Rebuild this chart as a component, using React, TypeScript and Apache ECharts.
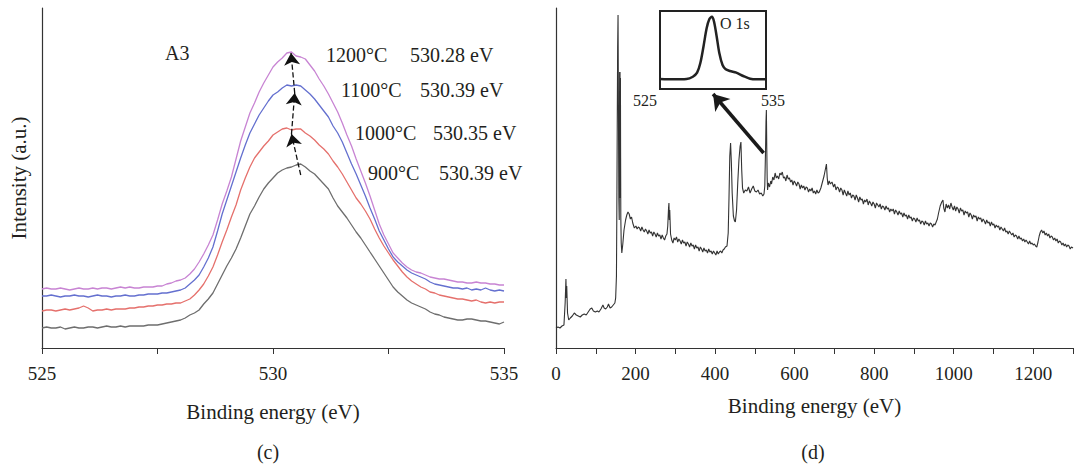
import { useEffect, useRef } from 'react';
import * as echarts from 'echarts';

// Abscissa grid of the O 1s spectra (0.1 eV sampling, 525–535 eV)
const energyC: number[] = Array.from({ length: 101 }, (_, i) => Math.round((525 + i * 0.1) * 10) / 10);

const gray900: number[] = [
  20, 21, 20, 20, 21, 19, 20, 21, 20, 20, 21, 21, 20, 21, 22, 21, 21, 22, 21, 22, 22,
  22, 22, 23, 23, 23, 24, 25, 26, 27, 28,
  30, 33, 35, 38, 44, 49, 55, 64, 73, 82,
  90, 99, 110, 122, 134, 142, 151, 159, 165, 170,
  175, 178, 180, 181, 183, 184, 181, 177, 174, 169,
  164, 159, 150, 142, 136, 130, 123, 116, 110, 103,
  96, 89, 82, 75, 68, 61, 56, 52, 48, 45,
  43, 41, 39, 36, 34, 33, 31, 30, 29, 28,
  28, 29, 29, 28, 27, 27, 26, 25, 24, 26,
];
const red1000: number[] = [
  37, 38, 38, 37, 38, 39, 38, 39, 40, 42, 40, 37, 38, 38, 39, 38, 39, 39, 39, 40, 40,
  41, 41, 42, 42, 43, 43, 44, 44, 45, 45,
  47, 49, 53, 58, 64, 72, 81, 93, 106, 118,
  131, 143, 158, 170, 181, 190, 196, 202, 207, 213,
  216, 219, 220, 218, 219, 219, 215, 212, 208, 203,
  199, 194, 187, 181, 174, 166, 158, 150, 144, 137,
  129, 119, 110, 102, 95, 88, 82, 76, 71, 67,
  64, 61, 59, 56, 55, 53, 52, 51, 50, 49,
  49, 48, 47, 48, 46, 45, 46, 45, 46, 46,
];
const blue1100: number[] = [
  52, 52, 53, 52, 51, 52, 52, 53, 52, 52, 51, 52, 53, 52, 52, 51, 52, 52, 53, 52, 52,
  53, 53, 54, 54, 54, 55, 55, 56, 57, 58,
  60, 64, 68, 73, 81, 90, 101, 117, 134, 148,
  162, 176, 190, 203, 215, 224, 233, 240, 247, 253,
  256, 260, 263, 262, 263, 262, 258, 254, 249, 243,
  237, 231, 222, 215, 206, 195, 184, 174, 163, 152,
  140, 129, 117, 108, 99, 91, 86, 82, 78, 75,
  73, 71, 69, 66, 64, 63, 62, 61, 60, 60,
  59, 60, 58, 59, 58, 60, 58, 57, 58, 57,
];
const purple1200: number[] = [
  59, 60, 59, 59, 60, 59, 58, 59, 60, 59, 59, 60, 59, 60, 60, 59, 60, 61, 60, 61, 60,
  60, 61, 61, 61, 62, 62, 64, 65, 67, 68,
  70, 74, 79, 86, 94, 103, 113, 128, 144, 157,
  171, 189, 207, 221, 235, 245, 256, 265, 273, 281,
  286, 290, 295, 296, 292, 291, 289, 283, 277, 269,
  262, 254, 245, 236, 225, 213, 202, 189, 177, 165,
  152, 138, 124, 113, 104, 95, 90, 85, 81, 78,
  76, 75, 73, 71, 70, 69, 69, 68, 67, 66,
  66, 65, 65, 66, 65, 65, 64, 64, 63, 63,
];

const seriesNames = ['900°C', '1000°C', '1100°C', '1200°C'];
const peakLabels = ['530.39 eV', '530.35 eV', '530.39 eV', '530.28 eV'];
const seriesColors = ['#6e6e6e', '#e5706c', '#6470cf', '#c884d3'];

// Dashed shift arrow (peak to peak)
const shiftPath: [number, number][] = [
  [530.6, 173], [530.4, 214], [530.47, 255], [530.39, 295],
];

// Survey spectrum (binding energy eV, intensity a.u.)
const surveyData: [number, number][] = [
  [0, 20], [5, 21], [10, 20], [15, 22], [20, 23], [23, 45], [25, 69], [26, 50], [27, 62], [29, 35], [32, 28], [36, 30], [41, 32], [46, 35], [51, 33], [56, 32], [61, 31], [66, 33], [71, 34], [76, 33], [81, 36], [86, 39], [90, 40], [94, 37], [99, 36], [104, 37], [108, 36], [113, 39], [118, 43], [121, 40], [125, 39], [129, 41], [132, 44], [136, 40], [140, 41], [144, 43], [148, 45], [150, 50],
  [152, 72], [153, 140], [154, 222], [155, 300], [156, 333], [157, 240], [158, 150], [159, 128], [160, 276], [160.5, 150], [161, 276], [161.5, 160], [162, 270], [162.5, 190], [163, 130], [164, 105], [165.5, 95], [168, 104], [171, 118], [175, 128], [178, 133], [181, 136], [184, 134], [187, 129], [190, 131], [193, 125], [197, 120],
  [201, 122], [204, 119], [207, 121], [210, 120], [213, 117], [216, 121], [219, 118], [222, 116], [225, 119], [228, 117], [231, 114], [234, 118], [237, 115], [240, 116], [243, 112], [246, 116], [249, 114], [252, 111], [255, 115], [258, 112], [261, 113], [264, 109], [267, 113], [270, 110], [273, 108], [276, 112], [279, 114], [281, 122], [283, 140], [284, 145], [285, 128], [286, 138], [288, 114], [291, 108], [294, 105], [297, 110],
  [300, 108], [303, 111], [306, 106], [309, 109], [312, 107], [315, 104], [318, 108], [321, 105], [324, 106], [327, 102], [330, 106], [333, 104], [336, 101], [339, 105], [342, 102], [345, 103], [348, 99], [351, 103], [354, 100], [357, 101], [360, 97], [363, 101], [366, 99], [369, 96], [372, 100], [375, 97], [378, 98], [381, 95], [384, 99], [387, 96], [390, 97], [393, 94], [396, 97], [399, 95], [402, 93], [405, 97], [408, 94], [411, 96], [414, 97], [417, 95], [420, 98], [423, 99], [426, 101], [430, 102],
  [433, 115], [435, 150], [437, 192], [439, 205], [441, 185], [443, 155], [446, 132], [449, 127], [451, 126], [454, 138], [457, 165], [460, 188], [463, 202], [465, 206], [467, 178], [469, 160], [472, 155], [476, 158], [480, 157], [484, 161], [488, 155], [492, 159], [496, 162], [500, 157],
  [504, 156], [508, 158], [512, 154], [516, 155], [520, 152], [523, 154], [525, 162], [527, 200], [528, 226], [529, 238], [530, 200], [531, 170], [532, 158], [534, 165], [537, 161], [540, 167], [542, 164], [545, 171], [548, 168], [551, 175], [554, 170], [557, 172], [560, 169], [563, 175], [566, 173], [569, 176], [572, 170], [575, 171], [578, 167], [581, 173], [584, 169], [587, 170], [590, 166], [593, 168], [596, 163], [599, 167],
  [602, 165], [605, 162], [608, 166], [611, 164], [614, 159], [617, 163], [620, 160], [623, 162], [626, 158], [629, 161], [632, 160], [635, 156], [638, 159], [641, 157], [644, 160], [647, 155], [650, 157], [653, 154], [656, 158], [659, 155], [662, 156], [666, 160], [670, 166], [674, 172], [677, 178], [680, 184], [682, 170], [684, 163], [687, 167], [690, 164], [694, 166], [698, 161],
  [701, 164], [704, 158], [707, 161], [710, 160], [713, 156], [716, 160], [719, 158], [722, 153], [725, 158], [728, 155], [731, 152], [734, 157], [737, 153], [740, 155], [743, 150], [746, 153], [749, 152], [752, 148], [755, 153], [758, 150], [761, 146], [764, 151], [767, 148], [770, 149], [773, 144], [776, 148], [779, 146], [782, 149], [785, 143], [788, 147], [791, 145], [794, 142], [797, 146],
  [800, 144], [803, 140], [806, 145], [809, 143], [812, 141], [815, 144], [818, 139], [821, 142], [824, 141], [827, 138], [830, 142], [833, 139], [836, 140], [839, 136], [842, 139], [845, 137], [848, 139], [851, 134], [854, 138], [857, 136], [860, 133], [863, 137], [866, 134], [869, 135], [872, 131], [875, 135], [878, 132], [881, 133], [884, 129], [887, 133], [890, 130], [893, 131], [896, 127], [899, 130],
  [902, 129], [905, 126], [908, 130], [911, 127], [914, 128], [917, 124], [920, 127], [923, 126], [926, 123], [929, 127], [932, 124], [935, 125], [938, 122], [941, 125], [944, 124], [947, 121], [950, 124], [953, 123], [956, 126], [959, 129], [962, 135], [966, 142], [970, 146], [973, 148], [975, 140], [978, 136], [981, 144], [984, 140], [987, 143], [990, 139], [993, 145], [996, 141], [999, 138],
  [1002, 142], [1005, 137], [1008, 141], [1011, 139], [1014, 135], [1017, 140], [1020, 137], [1023, 138], [1026, 133], [1029, 137], [1032, 135], [1035, 136], [1038, 131], [1041, 135], [1044, 133], [1047, 129], [1050, 133], [1053, 131], [1056, 132], [1059, 127], [1062, 131], [1065, 129], [1068, 130], [1071, 126], [1074, 129], [1077, 127], [1080, 124], [1083, 128], [1086, 125], [1089, 126], [1092, 122], [1095, 126], [1098, 123],
  [1101, 124], [1104, 120], [1107, 123], [1110, 121], [1113, 122], [1116, 118], [1119, 121], [1122, 119], [1125, 117], [1128, 120], [1131, 116], [1134, 117], [1137, 114], [1140, 117], [1143, 115], [1146, 113], [1149, 115], [1152, 111], [1155, 113], [1158, 112], [1161, 109], [1164, 112], [1167, 109], [1170, 110], [1173, 107], [1176, 109], [1179, 106], [1182, 108], [1185, 106], [1188, 104], [1191, 107], [1194, 104], [1197, 105],
  [1200, 103], [1203, 104], [1206, 102], [1209, 101], [1212, 106], [1215, 112], [1218, 116], [1221, 118], [1224, 115], [1227, 117], [1230, 113], [1233, 115], [1236, 112], [1239, 114], [1242, 110], [1245, 112], [1248, 111], [1251, 108], [1254, 110], [1257, 107], [1260, 109], [1263, 105], [1266, 107], [1269, 106], [1272, 103], [1275, 105], [1278, 102], [1281, 104], [1284, 101], [1287, 103], [1290, 102], [1293, 99], [1296, 101], [1300, 100],
];

// Inset O 1s
const insetE: number[] = [525, 526.25, 527.5, 528.1, 528.5, 528.8, 529.1, 529.4, 529.65, 529.9, 530.1, 530.35, 530.6, 530.9, 531.2, 531.6, 532.2, 532.85, 533.5, 534.1, 534.9, 535];
const insetI: number[] = [10, 9.7, 10, 12.3, 16.3, 25.7, 42.3, 60.7, 69.7, 72.3, 67.3, 52.3, 35.7, 24, 19.7, 18, 16.3, 13, 10.3, 9.7, 9.7, 9.7];
const insetTicks: number[] = [527.5, 531.7];

// Arrow from O 1s peak to inset
const insetArrow: [number, number][] = [[522, 195], [395, 254]];

const FONT = '"Liberation Serif", "Times New Roman", serif';
const TXT = '#231f20';

function txt(text: string, x: number, y: number, size: number, align = 'left') {
  return {
    type: 'text',
    x,
    y,
    silent: true,
    z: 10,
    style: {
      text,
      fill: TXT,
      font: `${size}px ${FONT}`,
      align,
      verticalAlign: 'middle',
      textAlign: align,
      textVerticalAlign: 'middle',
    },
  };
}

export default function App() {
  const ref = useRef<HTMLDivElement>(null);
  useEffect(() => {
    if (!ref.current) return;
    const chart = echarts.init(ref.current, null, { renderer: 'svg' });
    const axisLine = { show: true, lineStyle: { color: '#333', width: 1.2 } };
    const axisTick = { show: true, inside: false, length: 6, lineStyle: { color: '#333', width: 1 } };
    const labelStyle = { color: TXT, fontSize: 19, fontFamily: FONT, margin: 16 };
    const nameStyle = { color: TXT, fontSize: 21, fontFamily: FONT };
    const ys = [gray900, red1000, blue1100, purple1200];

    const lineSeries: any[] = ys.map((arr, si) => ({
      type: 'line',
      name: seriesNames[si],
      xAxisIndex: 0,
      yAxisIndex: 0,
      data: arr.map((v, i) => [energyC[i], v]),
      showSymbol: false,
      symbol: 'none',
      lineStyle: { color: seriesColors[si], width: 1.3 },
      z: 2,
    }));
    lineSeries[0].markLine = {
      silent: true,
      symbol: ['none', 'arrow'],
      symbolSize: 12,
      label: { show: false },
      lineStyle: { type: 'dashed', color: '#111', width: 1.3 },
      data: shiftPath.slice(0, -1).map((p, i) => [{ coord: p }, { coord: shiftPath[i + 1] }]),
    };

    chart.setOption({
      animation: false,
      textStyle: { fontFamily: FONT },
      grid: [
        { left: 42, top: 8, width: 462, height: 340 },
        { left: 556, top: 8, width: 520, height: 340 },
        { left: 660, top: 11, width: 106, height: 78, show: true, borderColor: '#222', borderWidth: 2, backgroundColor: '#fff', z: 5 },
      ],
      xAxis: [
        {
          type: 'value', gridIndex: 0, min: 525, max: 535, interval: 2.5,
          axisLine, axisTick, splitLine: { show: false },
          axisLabel: { ...labelStyle, formatter: (v: number) => (v % 5 === 0 ? String(v) : '') },
          name: 'Binding energy (eV)', nameLocation: 'middle', nameGap: 53,
          nameTextStyle: nameStyle,
        },
        {
          type: 'value', gridIndex: 1, min: 0, max: 1300, interval: 100,
          axisLine, axisTick, splitLine: { show: false },
          axisLabel: { ...labelStyle, formatter: (v: number) => (v % 200 === 0 ? String(v) : '') },
          name: 'Binding energy (eV)', nameLocation: 'middle', nameGap: 47,
          nameTextStyle: nameStyle,
        },
        {
          type: 'value', gridIndex: 2, min: 525, max: 535,
          axisLine: { show: false }, splitLine: { show: false },
          axisLabel: { show: false },
          axisTick: { show: true, inside: true, length: 3, customValues: insetTicks, lineStyle: { color: '#444' } },
        },
      ],
      yAxis: [
        {
          type: 'value', gridIndex: 0, min: 0, max: 340,
          axisLine, axisTick: { show: false }, axisLabel: { show: false }, splitLine: { show: false },
          name: 'Intensity (a.u.)', nameLocation: 'middle', nameRotate: 90, nameGap: 13,
          nameTextStyle: nameStyle,
        },
        {
          type: 'value', gridIndex: 1, min: 0, max: 340,
          axisLine, axisTick: { show: false }, axisLabel: { show: false }, splitLine: { show: false },
        },
        {
          type: 'value', gridIndex: 2, min: 0, max: 78,
          axisLine: { show: false }, axisTick: { show: false }, axisLabel: { show: false }, splitLine: { show: false },
        },
      ],
      series: [
        ...lineSeries,
        {
          type: 'line',
          name: 'survey',
          xAxisIndex: 1,
          yAxisIndex: 1,
          data: surveyData,
          showSymbol: false,
          symbol: 'none',
          lineStyle: { color: '#333', width: 1.1 },
          markLine: {
            silent: true,
            symbol: ['none', 'arrow'],
            symbolSize: 15,
            label: { show: false },
            lineStyle: { type: 'solid', color: '#1a1a1a', width: 3.5 },
            data: [[{ coord: insetArrow[0] }, { coord: insetArrow[1] }]],
          },
        },
        {
          type: 'line',
          name: 'O 1s',
          xAxisIndex: 2,
          yAxisIndex: 2,
          data: insetE.map((e, i) => [e, insetI[i]]),
          showSymbol: false,
          symbol: 'none',
          smooth: 0.3,
          lineStyle: { color: '#222', width: 2.5 },
          z: 6,
        },
      ],
      graphic: [
        txt('A3', 165, 53, 20),
        txt(seriesNames[3], 326, 55, 20), txt(peakLabels[3], 410, 55, 20),
        txt(seriesNames[2], 341, 90, 20), txt(peakLabels[2], 420, 90, 20),
        txt(seriesNames[1], 355, 133, 20), txt(peakLabels[1], 433, 133, 20),
        txt(seriesNames[0], 368, 173, 20), txt(peakLabels[0], 439, 173, 20),
        txt('O 1s', 720, 23, 16),
        txt('525', 645, 100, 16, 'center'),
        txt('535', 773, 100, 16, 'center'),
        txt('(c)', 268, 452, 20, 'center'),
        txt('(d)', 813, 452, 20, 'center'),
      ],
    });
    return () => chart.dispose();
  }, []);
  return <div ref={ref} style={{ position: 'absolute', left: 0, top: 0, width: 1076, height: 468 }} />;
}
